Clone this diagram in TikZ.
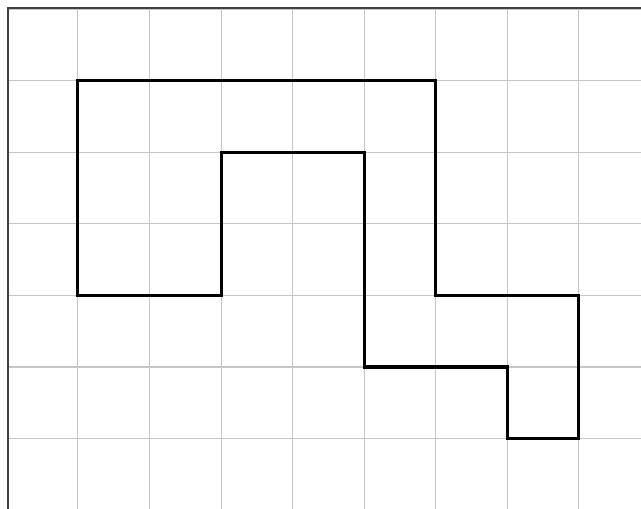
\documentclass[tikz,border=0pt]{standalone}
\usepackage{tikz}

\begin{document}
\begin{tikzpicture}[
	gridline/.style={gray!45,line width=0.4pt},
	frameline/.style={black!75,line width=0.8pt},
	outline/.style={black,line width=1.2pt,line join=miter}]
\useasboundingbox (-1.09,-0.98) rectangle (7.87,6.13);
% squared paper
\draw[gridline] (-0.98,-0.98) grid (7.87,6.02);
\draw[frameline] (-0.98,-0.98) -- (-0.98,6.02) -- (7.87,6.02);
% the figure
\draw[outline] (0,2) -- (0,5) -- (5,5) -- (5,2) -- (7,2) -- (7,0)
	-- (6,0) -- (6,1) -- (4,1) -- (4,4) -- (2,4) -- (2,2) -- cycle;
\end{tikzpicture}
\end{document}
